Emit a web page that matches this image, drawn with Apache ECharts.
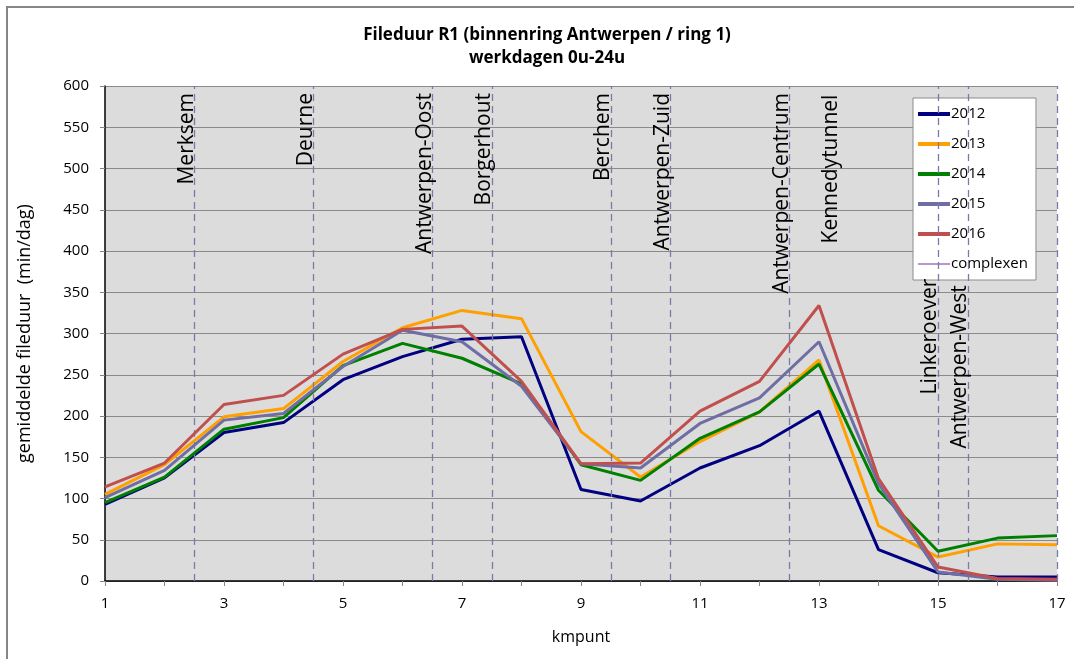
<!DOCTYPE html>
<html>
<head>
<meta charset="utf-8">
<script src="https://cdn.jsdelivr.net/npm/echarts@6/dist/echarts.min.js"></script>
<style>
  html, body { margin: 0; padding: 0; background: #ffffff; }
  #chart { width: 1074px; height: 659px; }
</style>
</head>
<body>
<div id="chart"></div>
<script>
// kilometre points along the inner ring
const kmpunt = [1, 2, 3, 4, 5, 6, 7, 8, 9, 10, 11, 12, 13, 14, 15, 16, 17];

// average congestion duration per working day (min/dag)
const y2012 = [93, 125, 180, 192, 244, 272, 293, 296, 111, 97, 137, 164, 206, 38, 10, 5, 5];
const y2013 = [105, 141, 199, 209, 266, 307, 328, 318, 181, 126, 169, 205, 268, 67, 29, 45, 44];
const y2014 = [95, 126, 184, 198, 261, 288, 270, 239, 141, 122, 173, 205, 263, 110, 36, 52, 55];
const y2015 = [101, 134, 195, 203, 260, 304, 290, 236, 142, 137, 191, 222, 290, 118, 11, 2, 1];
const y2016 = [114, 143, 214, 225, 275, 305, 309, 242, 142, 143, 206, 242, 334, 124, 17, 3, 2];

// interchanges ("complexen") along the ring: dashed boundary positions
const complexLineKm = [2.5, 4.5, 6.5, 7.5, 9.5, 10.5, 12.5, 15, 15.5, 17];
// interchange names, where they stand and how high (min/dag) each name reaches
const complexNames = ['Merksem', 'Deurne', 'Antwerpen-Oost', 'Borgerhout', 'Berchem',
  'Antwerpen-Zuid', 'Antwerpen-Centrum', 'Kennedytunnel', 'Linkeroever', 'Antwerpen-West'];
const complexNameKm = [2.5, 4.5, 6.5, 7.5, 9.5, 10.5, 12.5, 13.33, 15, 15.5];
const complexNameTop = [600, 600, 600, 600, 600, 600, 600, 598, 375, 367];

const yearNames = ['2012', '2013', '2014', '2015', '2016'];
const yearData = [y2012, y2013, y2014, y2015, y2016];
const yearColors = ['#000080', '#ffa000', '#008000', '#6e6ea4', '#c0504d'];

const FONT = 'Open Sans';

const yearSeries = yearNames.map((name, i) => ({
  name: name,
  type: 'line',
  data: kmpunt.map((k, j) => [k, yearData[i][j]]),
  symbol: 'none',
  z: 3 + i,
  lineStyle: { color: yearColors[i], width: 3 },
  itemStyle: { color: yearColors[i] },
  emphasis: { disabled: true }
}));

// invisible vertical segments that carry the rotated names
const complexLabels = complexNameKm.map((k, i) => [
  { coord: [k, 0] },
  { coord: [k, complexNameTop[i]], label: { formatter: complexNames[i] } }
]);

const complexSeries = [{
  name: 'complexen',
  type: 'line',
  data: [],
  symbol: 'none',
  z: 2,
  lineStyle: { color: '#7030a0', width: 1 },
  itemStyle: { color: '#7030a0' },
  markLine: {
    silent: true,
    symbol: 'none',
    animation: false,
    label: { show: false },
    lineStyle: { color: '#7a7aaa', width: 1.3, type: [7, 5] },
    data: complexLineKm.map(k => ({ xAxis: k }))
  }
}, {
  name: 'complexen-namen',
  type: 'line',
  data: [],
  symbol: 'none',
  z: 2,
  markLine: {
    silent: true,
    symbol: 'none',
    animation: false,
    lineStyle: { color: 'rgba(0,0,0,0)', width: 0 },
    label: {
      show: true,
      position: 'insideEndTop',
      distance: [7, -3],
      color: '#000000',
      fontFamily: FONT,
      fontSize: 21
    },
    data: complexLabels
  }
}];

// legend swatches: thick bars for the years, a thin line for the interchanges
const thickIcon = 'path://M0,0h32v4h-32z';
const thinIcon = 'path://M0,0h32v0.02h-32z M0,1.4h32v1.2h-32z M0,3.98h32v0.02h-32z';

const chart = echarts.init(document.getElementById('chart'), null, { renderer: 'canvas' });

chart.setOption({
  animation: false,
  backgroundColor: '#ffffff',
  title: {
    text: 'Fileduur R1 (binnenring Antwerpen / ring 1)\nwerkdagen 0u-24u',
    left: 542,
    textAlign: 'center',
    top: 19,
    textStyle: { fontFamily: FONT, fontWeight: 'bold', fontSize: 17, lineHeight: 23, color: '#000000' }
  },
  graphic: [{
    type: 'rect',
    shape: { x: 7, y: 7, width: 1100, height: 700 },
    style: { fill: 'none', stroke: '#868686', lineWidth: 2 },
    silent: true,
    z: -10
  }],
  legend: {
    data: yearNames.map(n => ({ name: n, icon: thickIcon })).concat([{ name: 'complexen', icon: thinIcon }]),
    orient: 'vertical',
    left: 913,
    top: 98,
    width: 124,
    padding: [7, 8, 7, 5],
    itemWidth: 32,
    itemHeight: 4,
    itemGap: 12,
    backgroundColor: '#ffffff',
    borderColor: '#8c8c8c',
    borderWidth: 1,
    textStyle: { fontFamily: FONT, fontSize: 15, color: '#000000', padding: [0, 0, 0, -4], lineHeight: 18 }
  },
  grid: { left: 105, right: 17, top: 86, bottom: 78, show: true, backgroundColor: '#dcdcdc', borderWidth: 0 },
  xAxis: {
    type: 'value',
    min: 1,
    max: 17,
    interval: 2,
    name: 'kmpunt',
    nameLocation: 'middle',
    nameGap: 48,
    nameTextStyle: { fontFamily: FONT, fontSize: 16, color: '#000000' },
    axisLine: { show: true, onZero: false, lineStyle: { color: '#000000', width: 1.5 } },
    axisTick: { show: true, inside: false, length: 5, lineStyle: { color: '#868686' } },
    minorTick: { show: true, splitNumber: 2, length: 5, lineStyle: { color: '#868686' } },
    axisLabel: { margin: 15, fontFamily: FONT, fontSize: 15, color: '#000000' },
    splitLine: { show: false }
  },
  yAxis: {
    type: 'value',
    min: 0,
    max: 600,
    interval: 50,
    name: 'gemiddelde fileduur  (min/dag)',
    nameLocation: 'middle',
    nameGap: 71,
    nameTextStyle: { fontFamily: FONT, fontSize: 18, color: '#000000' },
    axisLine: { show: true, lineStyle: { color: '#000000', width: 1.5 } },
    axisTick: { show: true, inside: false, length: 5, lineStyle: { color: '#868686' } },
    axisLabel: { margin: 16, fontFamily: FONT, fontSize: 15, color: '#000000' },
    splitLine: { show: true, lineStyle: { color: '#8a8a8a', width: 1 } }
  },
  series: yearSeries.concat(complexSeries)
});
</script>
</body>
</html>
